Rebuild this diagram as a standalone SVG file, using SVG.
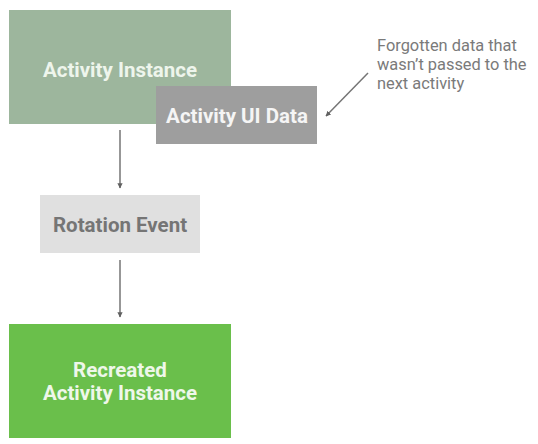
<svg xmlns="http://www.w3.org/2000/svg" width="538" height="444" viewBox="0 0 538 444">
<style>
.lbl{font-family:Roboto,"Liberation Sans",sans-serif;font-weight:bold;font-size:20.5px;text-anchor:middle}
.note{font-family:Roboto,"Liberation Sans",sans-serif;font-size:16.4px;fill:#7a7a7a}
.conn{stroke:#757575;stroke-width:1.5;fill:none}
</style>
<defs>
<marker id="ah" viewBox="0 0 10 10" refX="9" refY="5" markerWidth="3.5" markerHeight="3.5" orient="auto"><path d="M0,0 L10,5 L0,10 z" fill="#616161"/></marker>
</defs>
<rect width="538" height="444" fill="#ffffff"/>
<g id="activity-instance">
<rect x="9" y="10" width="222" height="114" fill="#9db69d"/>
<text class="lbl" x="120" y="77" fill="#eef5ec">Activity Instance</text>
</g>
<g id="activity-ui-data">
<rect x="156" y="86" width="161" height="58" fill="#9e9e9e"/>
<text class="lbl" x="237" y="123" fill="#f5f5f5">Activity UI Data</text>
</g>
<g id="rotation-event">
<rect x="40" y="195" width="160" height="58" fill="#e0e0e0"/>
<text class="lbl" x="120" y="232" fill="#757575">Rotation Event</text>
</g>
<g id="recreated">
<rect x="9" y="324" width="222" height="114" fill="#6abf4b"/>
<text class="lbl" x="120" y="377" fill="#eef7ea">Recreated</text>
<text class="lbl" x="120" y="400" fill="#eef7ea">Activity Instance</text>
</g>
<g id="note">
<text class="note" x="377" y="51">Forgotten data that</text>
<text class="note" x="377" y="70">wasn’t passed to the</text>
<text class="note" x="377" y="89">next activity</text>
</g>
<g id="connectors">
<line class="conn" x1="120" y1="130" x2="120" y2="188" marker-end="url(#ah)"/>
<line class="conn" x1="120" y1="260" x2="120" y2="317" marker-end="url(#ah)"/>
<line class="conn" x1="368" y1="73" x2="326" y2="116" marker-end="url(#ah)"/>
</g>
</svg>
